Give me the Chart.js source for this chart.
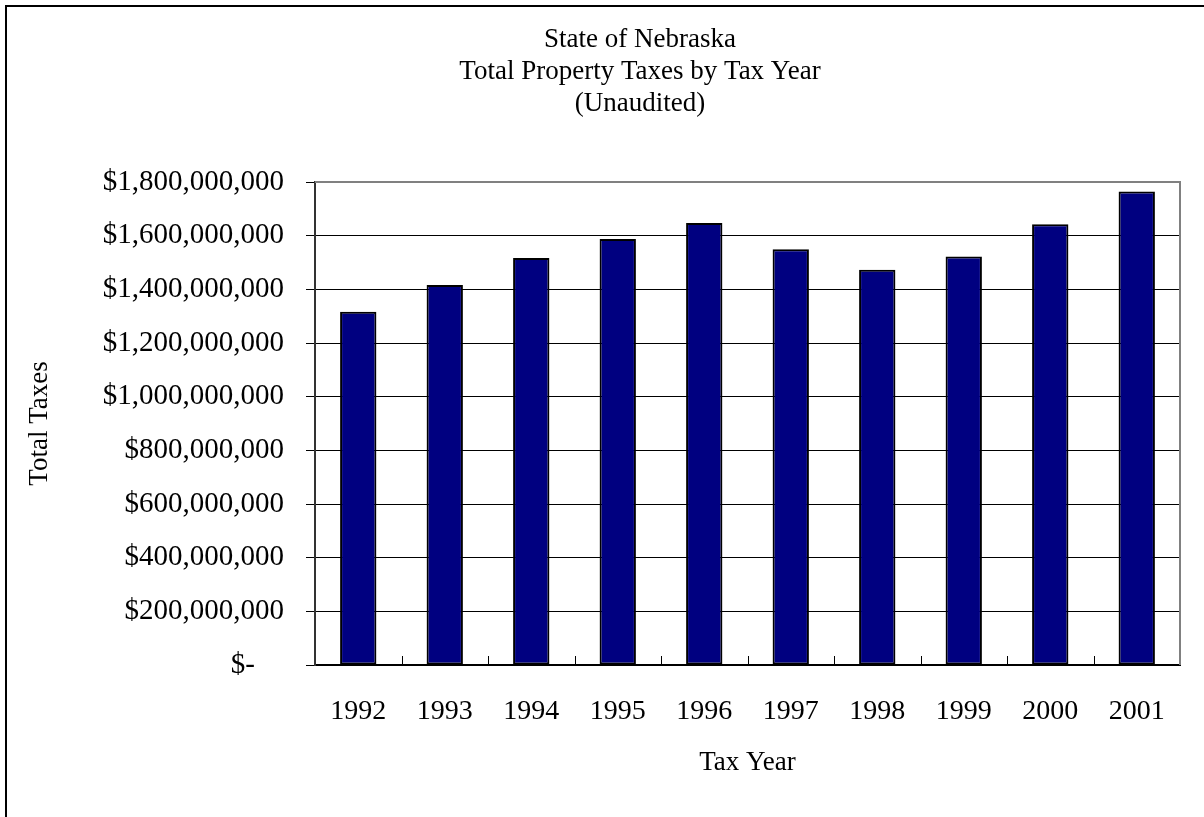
<!DOCTYPE html>
<html>
<head>
<meta charset="utf-8">
<script src="https://cdn.jsdelivr.net/npm/chart.js@4/dist/chart.umd.min.js"></script>
<style>
  body { margin: 0; background: #fff; overflow: hidden; }
  #frame { position: absolute; left: 5px; top: 5px; width: 1400px; height: 1000px; border-left: 2px solid #000; border-top: 2px solid #000; }
  #wrap { position: absolute; left: 0; top: 0; }
</style>
</head>
<body>
<div id="frame"></div>
<div id="wrap"><canvas id="taxChart" width="1280" height="880"></canvas></div>
<script>
const titleLines = ["State of Nebraska", "Total Property Taxes by Tax Year", "(Unaudited)"];
const years = ["1992", "1993", "1994", "1995", "1996", "1997", "1998", "1999", "2000", "2001"];
const totalTaxes = [1316e6, 1416e6, 1517e6, 1588e6, 1647e6, 1549e6, 1473e6, 1522e6, 1643e6, 1765e6];
const yMax = 1800000000;
const yStep = 200000000;

const serif = "'Liberation Serif', 'Times New Roman', serif";

// title is centred on the whole (cropped) chart, not the plot
const chartTitle = {
  id: "chartTitle",
  afterDraw(chart) {
    const ctx = chart.ctx;
    ctx.save();
    ctx.font = "27px " + serif;
    ctx.fillStyle = "#000";
    ctx.textAlign = "center";
    ctx.textBaseline = "middle";
    titleLines.forEach((line, i) => ctx.fillText(line, chart.width / 2, 40 + i * 32));
    ctx.restore();
  }
};

// gray plot border on top/right, small inside ticks between categories
const plotFrame = {
  id: "plotFrame",
  afterDatasetsDraw(chart) {
    const { ctx, chartArea: a, scales: { x } } = chart;
    ctx.save();
    ctx.strokeStyle = "#808080";
    ctx.lineWidth = 2;
    ctx.beginPath();
    ctx.moveTo(a.left, a.top);
    ctx.lineTo(a.right, a.top);
    ctx.lineTo(a.right, a.bottom);
    ctx.stroke();
    ctx.strokeStyle = "#000";
    ctx.lineWidth = 1;
    const half = (x.getPixelForValue(1) - x.getPixelForValue(0)) / 2;
    for (let i = 1; i < years.length; i++) {
      const px = Math.round(x.getPixelForValue(i) - half) + 0.5;
      ctx.beginPath();
      ctx.moveTo(px, a.bottom);
      ctx.lineTo(px, a.bottom - 9);
      ctx.stroke();
    }
    ctx.restore();
  }
};

new Chart("taxChart", {
  type: "bar",
  data: {
    labels: years,
    datasets: [{
      data: totalTaxes,
      backgroundColor: "#000080",
      borderColor: "#000",
      borderWidth: 2,
      borderSkipped: false,
      barPercentage: 0.42,
      categoryPercentage: 1
    }]
  },
  options: {
    responsive: false,
    animation: false,
    layout: { padding: { left: 20, right: 100, top: 182, bottom: 101 } },
    plugins: {
      legend: { display: false },
      title: { display: false },
      tooltip: { enabled: false }
    },
    scales: {
      x: {
        afterFit(scale) { scale.height = 114; },
        grid: { display: false },
        border: { color: "#000", width: 2 },
        ticks: { color: "#000", padding: 22, font: { family: serif, size: 28 } },
        title: {
          display: true, text: "Tax Year", color: "#000",
          font: { family: serif, size: 27 }, padding: { top: 18, bottom: 0 }
        }
      },
      y: {
        min: 0,
        max: yMax,
        afterFit(scale) { scale.width = 295; },
        grid: { color: "#000", lineWidth: 1, tickLength: 9 },
        border: { color: "#333", width: 2 },
        ticks: {
          stepSize: yStep,
          color: "#000",
          padding: 22,
          font: { family: serif, size: 29 },
          callback: v => v === 0 ? "$-    " : "$" + v.toLocaleString("en-US")
        },
        title: {
          display: true, text: "Total Taxes", color: "#000",
          font: { family: serif, size: 27 }, padding: { top: 4, bottom: 0 }
        }
      }
    }
  },
  plugins: [chartTitle, plotFrame]
});
</script>
</body>
</html>
